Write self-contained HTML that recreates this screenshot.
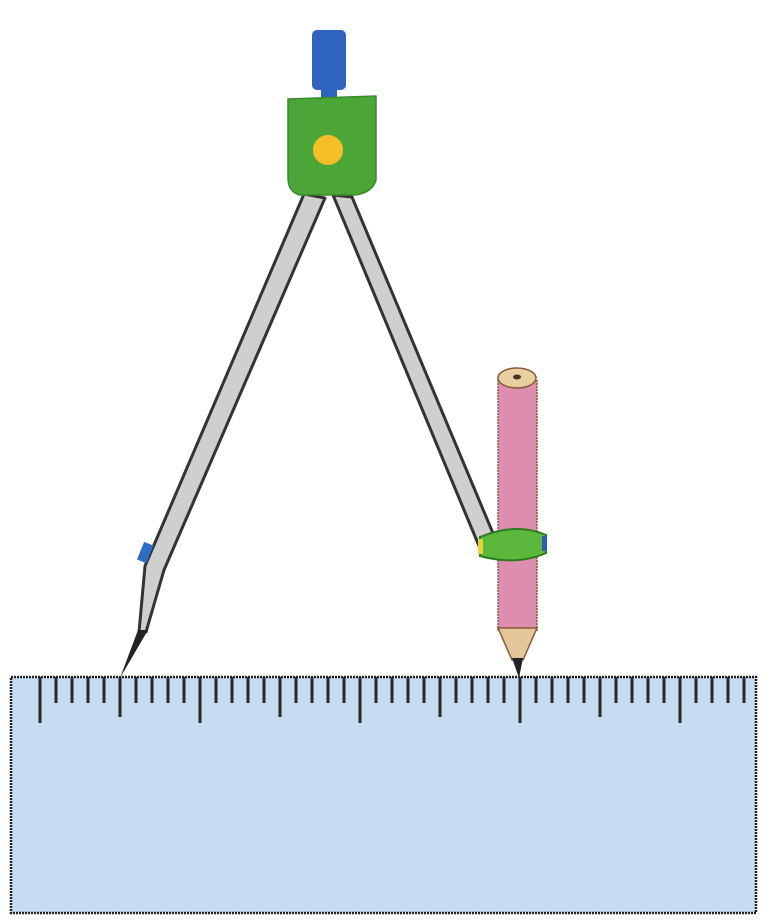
<!DOCTYPE html>
<html><head><meta charset="utf-8"><style>
html,body{margin:0;padding:0;background:#fff;}
svg{display:block;}
</style></head><body>
<svg width="778" height="923" viewBox="0 0 778 923">
  <g>
    <rect x="11" y="677" width="745" height="236" fill="#c6dcf0" stroke="#222" stroke-width="2.5" stroke-dasharray="2 1"/>
    <g id="ticks"></g>
  </g>
  <g>
    <polygon points="304,194 325,198 164,570 146,632 139,632 145,566" fill="#cfcfcf" stroke="#333" stroke-width="3" stroke-linejoin="round"/>
    <polygon points="138,630 148,630 120,678" fill="#222"/>
    <rect x="140" y="543" width="10" height="19" fill="#2d6ec4" transform="rotate(22 145 553)"/>
  </g>
  <g>
    <polygon points="333,195 352,197 495,538 479,546" fill="#cfcfcf" stroke="#333" stroke-width="3"/>
  </g>
  <g>
    <rect x="498" y="380" width="39" height="250" fill="#dd8eaf" stroke="#8a5a3a" stroke-width="1.5" stroke-dasharray="2 1"/>
    <ellipse cx="517" cy="378" rx="19" ry="10" fill="#e8cfa0" stroke="#8a5a3a" stroke-width="1.5"/>
    <ellipse cx="517" cy="377" rx="4" ry="2.5" fill="#4a3020"/>
    <polygon points="498,628 537,628 523,660 512,660" fill="#e3c79a" stroke="#8a5a3a" stroke-width="1.5"/>
    <polygon points="512,658 523,658 519,678" fill="#222"/>
    <path d="M480,537 Q517,522 546,535 L546,553 Q517,566 480,556 Z" fill="#5cb83c" stroke="#2e7a22" stroke-width="2"/>
    <rect x="542" y="536" width="5" height="15" fill="#2d5fb0"/>
    <rect x="478" y="539" width="5" height="15" fill="#e6d23a"/>
  </g>
  <g>
    <rect x="312" y="30" width="34" height="60" rx="5" fill="#2f63c0"/>
    <rect x="321" y="85" width="16" height="20" fill="#2f63c0"/>
    <path d="M288,99 L376,96 L376,180 Q372,193 355,195 L300,195 Q288,192 288,178 Z" fill="#4ca637" stroke="#3a8a2a" stroke-width="1.5"/>
    <circle cx="328" cy="150" r="15" fill="#f7be2a"/>
  </g>
</svg>
<script>
const tickStart = 40;
const tickStep = 16;
const tickCount = 45;
const g = document.getElementById('ticks');
for (let i = 0; i < tickCount; i++) {
  const x = tickStart + i * tickStep;
  if (x > 752) break;
  const len = i % 10 === 0 ? 46 : (i % 5 === 0 ? 40 : 26);
  const l = document.createElementNS('http://www.w3.org/2000/svg', 'line');
  l.setAttribute('x1', x); l.setAttribute('x2', x);
  l.setAttribute('y1', 677); l.setAttribute('y2', 677 + len);
  l.setAttribute('stroke', '#2a2a2a'); l.setAttribute('stroke-width', '3');
  
  
  g.appendChild(l);
}
</script>
</body></html>
